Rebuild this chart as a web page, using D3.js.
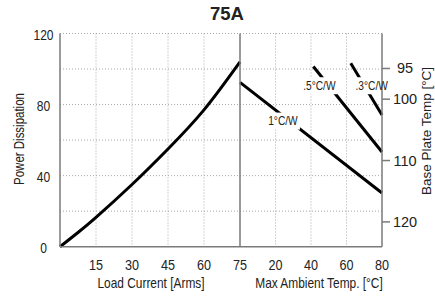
<!DOCTYPE html>
<html><head><meta charset="utf-8">
<script src="https://cdn.jsdelivr.net/npm/d3@7"></script>
<style>body{margin:0;background:#fff}svg{display:block}text{font-family:"Liberation Sans",Arial,Helvetica,sans-serif;fill:#222}</style>
</head><body>
<script>
// ---- data ----
const title = "75A";
const loadCurrent = [0, 7.5, 15, 30, 45, 60, 75];
const powerDissipation = [0, 8, 16.5, 35, 55, 77, 104];
const currentTicks = [15, 30, 45, 60, 75];
const ambientTicks = [20, 40, 60, 80];
const powerTicks = [0, 40, 80, 120];
const powerGrid = [20, 40, 60, 80, 100, 120];
const baseTempTicks = [95, 100, 110, 120];
const sinkLabels = ["1°C/W", ".5°C/W", ".3°C/W"];
const ambient1 = [0, 80], power1 = [92.5, 30.2];
const ambient05 = [41.3, 80], power05 = [101.4, 53.3];
const ambient03 = [62.4, 80], power03 = [103.2, 74.1];
const labelAmbient = [24.2, 44.7, 74.2];
const labelPower = [70.7, 90.6, 90.6];

const W = 435, H = 299;
const svg = d3.select("body").append("svg").attr("width", W).attr("height", H);

const xL = d3.scaleLinear().domain([0, 75]).range([60, 240]);
const xR = d3.scaleLinear().domain([0, 80]).range([240, 382]);
const y = d3.scaleLinear().domain([0, 120]).range([246.7, 33.5]);
const yR = d3.scaleLinear().domain([124.04, 89.3]).range([246.7, 33.5]);

const gridC = "#a8a8a8", axisC = "#7a7a7a";

// grid
const g = svg.append("g");
g.selectAll(".hg").data(powerGrid).join("line")
  .attr("x1", 60).attr("x2", 382).attr("y1", d => y(d)).attr("y2", d => y(d))
  .attr("stroke", gridC).attr("stroke-width", 1).attr("stroke-dasharray", "1,2");
g.selectAll(".vgl").data(currentTicks.filter(d => d < 75)).join("line")
  .attr("x1", d => xL(d)).attr("x2", d => xL(d)).attr("y1", y(120)).attr("y2", y(0))
  .attr("stroke", gridC).attr("stroke-width", 1).attr("stroke-dasharray", "1,2");
g.selectAll(".vgr").data(ambientTicks.filter(d => d < 80)).join("line")
  .attr("x1", d => xR(d)).attr("x2", d => xR(d)).attr("y1", y(120)).attr("y2", y(0))
  .attr("stroke", gridC).attr("stroke-width", 1).attr("stroke-dasharray", "1,2");

// curves
const left = loadCurrent.map((c, i) => [c, powerDissipation[i]]);
svg.append("path").datum(left)
  .attr("d", d3.line().x(d => xL(d[0])).y(d => y(d[1])).curve(d3.curveNatural))
  .attr("fill", "none").attr("stroke", "#000").attr("stroke-width", 3);

const sinks = [[ambient1, power1], [ambient05, power05], [ambient03, power03]];
sinks.forEach(([a, p]) => {
  svg.append("path").datum(a.map((v, i) => [v, p[i]]))
    .attr("d", d3.line().x(d => xR(d[0])).y(d => y(d[1])))
    .attr("fill", "none").attr("stroke", "#000").attr("stroke-width", 3);
});

// label background boxes
const lblW = [34, 36, 34];
sinkLabels.forEach((t, i) => {
  const cx = xR(labelAmbient[i]), cy = y(labelPower[i]);
  svg.append("rect").attr("x", cx - lblW[i] / 2).attr("y", cy - 8.5)
    .attr("width", lblW[i]).attr("height", 17).attr("fill", "#fff");
});

// axis lines
const ax = svg.append("g").attr("stroke", axisC).attr("stroke-width", 1.5);
ax.append("line").attr("x1", 60).attr("x2", 60).attr("y1", y(120)).attr("y2", y(0));
ax.append("line").attr("x1", 60).attr("x2", 382).attr("y1", y(0)).attr("y2", y(0));
ax.append("line").attr("x1", 240).attr("x2", 240).attr("y1", y(120)).attr("y2", y(0));
ax.append("line").attr("x1", 382).attr("x2", 382).attr("y1", y(120)).attr("y2", y(0));
ax.selectAll(".rt").data(baseTempTicks).join("line")
  .attr("x1", 382).attr("x2", 390).attr("y1", d => yR(d)).attr("y2", d => yR(d));

// text helper
function txt(x, yy, s, size, sx, opts = {}) {
  const t = svg.append("text")
    .attr("transform", `translate(${x},${yy})${opts.rot ? ` rotate(${opts.rot})` : ""} scale(${sx},1)`)
    .attr("text-anchor", opts.anchor || "middle")
    .attr("font-size", size).text(s);
  if (opts.bold) t.attr("font-weight", "bold");
  return t;
}

// title
txt(227, 20, title, 18.5, 1, { bold: true });

// left y ticks
powerTicks.forEach(d => txt(43.5, y(d) + 6.5, d, 14, 0.86));
// x ticks
currentTicks.forEach(d => txt(xL(d), 269.5, d, 14, 0.9));
ambientTicks.forEach(d => txt(xR(d), 269.5, d, 14, 0.9));
// right ticks
baseTempTicks.forEach(d => txt(405, yR(d) + 5, d, 14.5, 1));

// axis titles
txt(151, 288, "Load Current  [Arms]", 14, 0.85);
txt(319, 288, "Max Ambient Temp. [°C]", 14, 0.85);
txt(24, 139, "Power Dissipation", 14, 0.82, { rot: -90 });
txt(430.5, 131, "Base Plate Temp [°C]", 13.5, 1, { rot: -90 });

// sink labels
sinkLabels.forEach((t, i) => {
  txt(xR(labelAmbient[i]), y(labelPower[i]) + 4, t, 12, 0.85);
});
</script>
</body></html>
